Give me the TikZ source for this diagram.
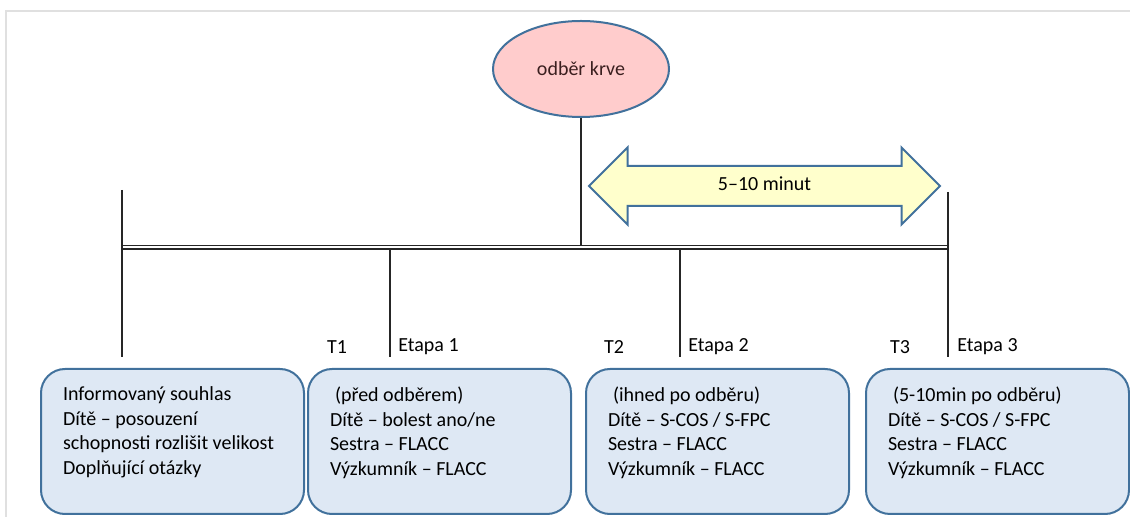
\documentclass[tikz,border=0pt]{standalone}
\usepackage{fontspec}
\setmainfont{Carlito}
\usepackage{xcolor}
\usepackage{tikz}
\usetikzlibrary{shapes.geometric, shapes.arrows, positioning}

\definecolor{edgeblue}{HTML}{41719C}
\definecolor{stagefill}{HTML}{DEE8F4}
\definecolor{bloodpink}{HTML}{FFCCCC}
\definecolor{spanyellow}{HTML}{FFFFCC}
\definecolor{bloodtext}{HTML}{3B1F1F}

% text of one stage box, kept at the top of the box
\newcommand{\stagetext}[1]{\parbox[c][54.5pt][t]{109.5pt}{\raggedright #1}}

\begin{document}
\begin{tikzpicture}[x=0.5pt, y=-0.5pt, font=\fontsize{10}{12.25}\selectfont]
    \tikzstyle{stagebox} = [rectangle, draw=edgeblue, fill=stagefill, line width=1pt, rounded corners=12pt, inner xsep=11pt, inner ysep=9pt, anchor=north west]
    \tikzstyle{event} = [ellipse, draw=edgeblue, fill=bloodpink, line width=1pt, minimum width=88pt, minimum height=48pt, text=bloodtext]
    \tikzstyle{timespan} = [double arrow, draw=edgeblue, fill=spanyellow, line width=1pt, minimum height=175.5pt, double arrow head extend=9.25pt, text height=7pt, text depth=2pt, inner xsep=0pt, inner ysep=5pt]
    \tikzstyle{tick} = [draw, line width=0.65pt, black!85]
    \tikzstyle{stamp} = [inner sep=0pt]

    % screenshot frame
    \useasboundingbox (0,0) rectangle (1130,517);
    \draw [black!12, line width=0.8pt] (6,517) -- (6,11) -- (1130,11);

    \node [event] (krev) at (581,69) {odběr krve};
    \node [timespan] (interval) at (764.5,186) {5--10 minut};

    % time axis
    \coordinate (axis west) at (122,247.25);
    \coordinate (axis east) at (948,247.25);
    \draw [double, double distance=1.1pt, line width=0.65pt, black!85] (axis west) -- (axis east);

    \coordinate (t0) at (122,357);
    \coordinate (t1) at (390,357);
    \coordinate (t2) at (680,357);
    \coordinate (t3) at (948,357);

    \path [tick] (122,190) -- (t0);
    \path [tick] (948,192) -- (t3);
    \path [tick] (krev.south) -- (krev.south |- 0,245.5);
    \path [tick] (t1 |- 0,249) -- (t1);
    \path [tick] (t2 |- 0,249) -- (t2);

    \node [stamp, anchor=west] (etapa1) at (398,347) {Etapa 1};
    \node [stamp, anchor=west] (etapa2) at (688,347) {Etapa 2};
    \node [stamp, anchor=west] (etapa3) at (957,347) {Etapa 3};
    \node [stamp] (time1) at (337,347) {T1};
    \node [stamp] (time2) at (614,347) {T2};
    \node [stamp] (time3) at (900,347) {T3};

    \node [stagebox] (intro) at (40,368) {\stagetext{Informovaný souhlas\\Dítě -- posouzení\\schopnosti rozlišit velikost\\Doplňující otázky}};
    \node [stagebox] (stage1) at (307,368) {\stagetext{\hspace{0.25em}(před odběrem)\\Dítě -- bolest ano/ne\\Sestra -- FLACC\\Výzkumník -- FLACC}};
    \node [stagebox] (stage2) at (585,368) {\stagetext{\hspace{0.25em}(ihned po odběru)\\Dítě -- S-COS / S-FPC\\Sestra -- FLACC\\Výzkumník -- FLACC}};
    \node [stagebox] (stage3) at (865,368) {\stagetext{\hspace{0.25em}(5-10min po odběru)\\Dítě -- S-COS / S-FPC\\Sestra -- FLACC\\Výzkumník -- FLACC}};
\end{tikzpicture}
\end{document}
